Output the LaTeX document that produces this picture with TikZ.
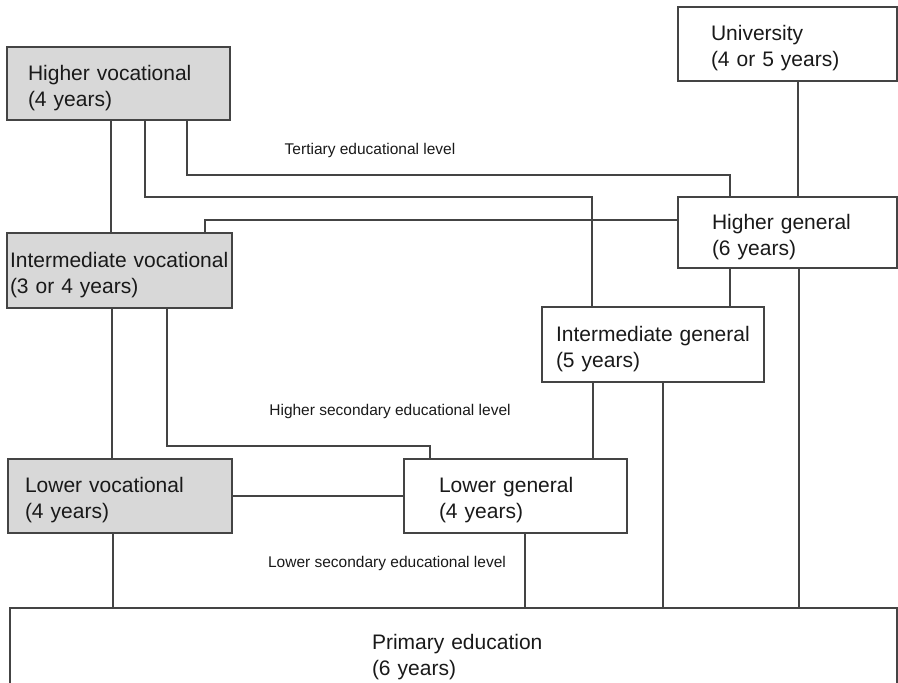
\documentclass[tikz,border=0pt]{standalone}
\usepackage{fontspec}
\setmainfont{Liberation Sans}
\usepackage{tikz}
\usetikzlibrary{positioning}
\definecolor{vocgray}{RGB}{216,216,216}
\definecolor{linegray}{RGB}{68,68,68}

\begin{document}
\begin{tikzpicture}[x=1pt, y=-1pt, line width=1.5pt, color=linegray,
  box/.style={draw=linegray, anchor=north west, align=left, inner ysep=0pt, outer sep=0pt,
    font=\fontsize{21}{26}\selectfont, text=black!90,
    execute at begin node={\rule{0pt}{24pt}}},
  voc/.style={box, fill=vocgray},
  lvl/.style={font=\fontsize{15.5}{18}\selectfont, text=black!90}]
  \clip (0,0) rectangle (898,683);
  \node[voc, text width=181pt, inner xsep=21pt, minimum height=73pt] (hv) at (7,47)
    {\mbox{Higher vocational}\\(4 years)};
  \node[voc, text width=219pt, inner xsep=3pt, minimum height=75pt] (iv) at (7,233)
    {\mbox{Intermediate vocational}\\(3 or 4 years)};
  \node[voc, text width=190pt, inner xsep=17pt, minimum height=74pt] (lv) at (8,459)
    {\mbox{Lower vocational}\\(4 years)};
  \node[box, text width=153pt, inner xsep=35pt, minimum height=74pt, right=172pt of lv] (lg)
    {\mbox{Lower general}\\(4 years)};
  \node[box, text width=194pt, inner xsep=14pt, minimum height=75pt] (ig) at (542,307)
    {\mbox{Intermediate general}\\(5 years)};
  \node[box, text width=153pt, inner xsep=33pt, minimum height=74pt] (uni) at (678,7)
    {University\\(4 or 5 years)};
  \node[box, text width=151pt, inner xsep=34pt, minimum height=71pt, below=116pt of uni] (hg)
    {\mbox{Higher general}\\(6 years)};
  \node[box, text width=163pt, inner xsep=362pt, minimum height=90pt] (pe) at (10,608)
    {\mbox{Primary education}\\(6 years)};
  \node[lvl] (tert) at (370,150) {Tertiary educational level};
  \node[lvl] (hisec) at (390,411) {Higher secondary educational level};
  \node[lvl] (losec) at (387,563) {Lower secondary educational level};
  \draw ([xshift=104pt]hv.south west) -- ([xshift=104pt]iv.north west);
  \draw ([xshift=138pt]hv.south west) |- ([xshift=50pt,yshift=110pt]ig.north west)
    -- ([xshift=50pt]ig.north west);
  \draw ([xshift=180pt]hv.south west) |- ([xshift=52pt,yshift=22pt]hg.north west)
    -- ([xshift=52pt]hg.north west);
  \draw ([xshift=198pt]iv.north west) |- ([yshift=-23pt]hg.north west);
  \draw ([xshift=120pt]uni.south west) -- ([xshift=120pt]hg.north west);
  \draw ([xshift=52pt]hg.south west) -- ([xshift=188pt]ig.north west);
  \draw ([xshift=121pt]hg.south west) -- ([xshift=789pt]pe.north west);
  \draw ([xshift=105pt]iv.south west) -- ([xshift=104pt]lv.north west);
  \draw ([xshift=160pt]iv.south west) |- ([xshift=26pt,yshift=13pt]lg.north west)
    -- ([xshift=26pt]lg.north west);
  \draw (lv) -- (lg);
  \draw ([xshift=105pt]lv.south west) -- ([xshift=103pt]pe.north west);
  \draw ([xshift=51pt]ig.south west) -- ([xshift=189pt]lg.north west);
  \draw ([xshift=121pt]ig.south west) -- ([xshift=653pt]pe.north west);
  \draw ([xshift=121pt]lg.south west) -- ([xshift=515pt]pe.north west);
\end{tikzpicture}
\end{document}
